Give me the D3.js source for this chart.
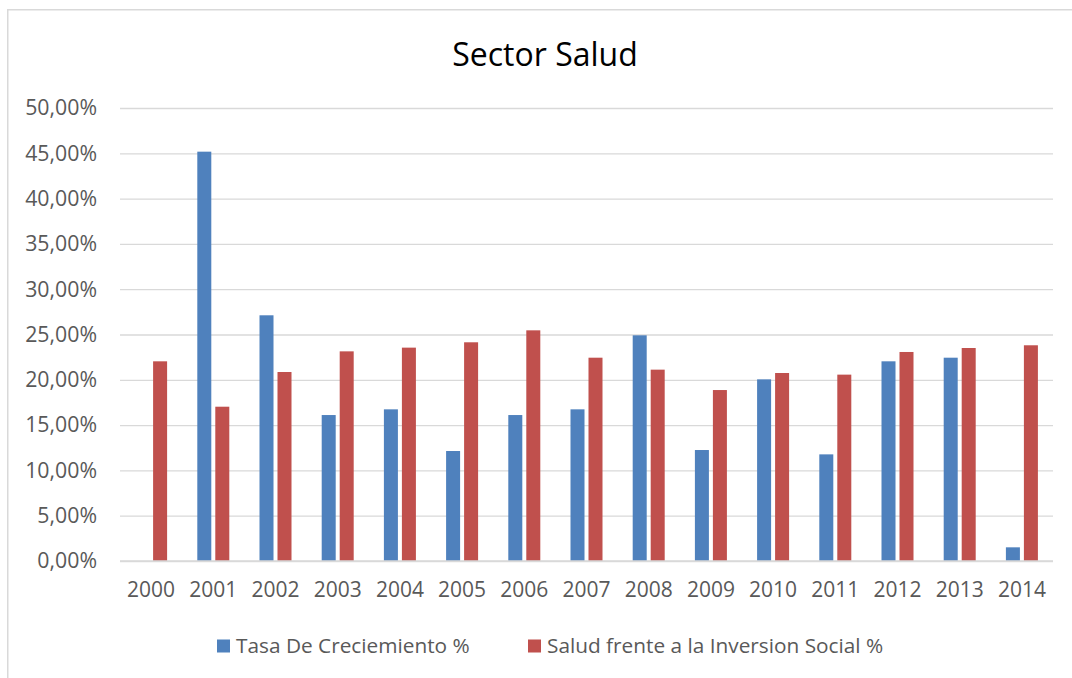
<!DOCTYPE html>
<html>
<head>
<meta charset="utf-8">
<script src="https://cdn.jsdelivr.net/npm/d3@7"></script>
<style>
  html, body { margin: 0; padding: 0; background: #fff; }
  svg { display: block; }
  text { font-family: "Open Sans", "Noto Sans", sans-serif; }
</style>
</head>
<body>
<svg id="chart" width="1072" height="678"></svg>
<script>
// ---- data ----
const years = ["2000","2001","2002","2003","2004","2005","2006","2007","2008","2009","2010","2011","2012","2013","2014"];
const tasaCrecimiento = [null, 0.4518, 0.2712, 0.1611, 0.1674, 0.1214, 0.1611, 0.1674, 0.2491, 0.1225, 0.2005, 0.1177, 0.2204, 0.2244, 0.0151];
const saludInversion = [0.2204, 0.1703, 0.2086, 0.2314, 0.2355, 0.2414, 0.2546, 0.2244, 0.2112, 0.1887, 0.2075, 0.2057, 0.2307, 0.2351, 0.2381];
const seriesNames = ["Tasa De Creciemiento %", "Salud frente a la Inversion Social %"];
const seriesColors = ["#4f81bd", "#c0504d"];
const yTicks = [0, 0.05, 0.10, 0.15, 0.20, 0.25, 0.30, 0.35, 0.40, 0.45, 0.50];
const title = "Sector Salud";

// ---- layout ----
const svg = d3.select("#chart");
const plot = { left: 120, right: 1053, top: 108, bottom: 561 };
const textColor = "#595959";
const gridColor = "#d9d9d9";

const locale = d3.formatLocale({ decimal: ",", thousands: ".", grouping: [3], currency: ["", "€"] });
const fmt = locale.format(".2%");

// chart border (only top/left visible in frame)
svg.append("rect")
  .attr("x", 7.75).attr("y", 9.75)
  .attr("width", 1200).attr("height", 800)
  .attr("fill", "none").attr("stroke", gridColor).attr("stroke-width", 1.5);

// title
svg.append("text")
  .attr("x", 545).attr("y", 66)
  .attr("text-anchor", "middle")
  .attr("font-size", 32)
  .attr("fill", "#000")
  .text(title);

// scales
const pi = 0.4855;
const x0 = d3.scaleBand().domain(years).range([plot.left, plot.right]).paddingInner(pi).paddingOuter(pi / 2);
const x1 = d3.scaleBand().domain(seriesNames).range([0, x0.bandwidth()]).paddingInner(0.222).paddingOuter(0);
const y = d3.scaleLinear().domain([0, 0.5]).range([plot.bottom, plot.top]);

// gridlines + y axis labels
const yAxis = d3.axisLeft(y).tickValues(yTicks).tickFormat(fmt).tickSize(-(plot.right - plot.left)).tickPadding(23);
const gy = svg.append("g").attr("transform", `translate(${plot.left},0)`).call(yAxis);
gy.select(".domain").remove();
gy.selectAll(".tick line").attr("stroke", gridColor).attr("stroke-width", 1.3);
gy.selectAll(".tick text").attr("fill", textColor).attr("font-size", 21.3)
  .attr("font-family", "'Open Sans', sans-serif");

// bars
const rows = years.map((yr, i) => ({ year: yr, values: [tasaCrecimiento[i], saludInversion[i]] }));
const groups = svg.append("g").selectAll("g").data(rows).join("g")
  .attr("transform", d => `translate(${x0(d.year)},0)`);
groups.selectAll("rect")
  .data(d => d.values.map((v, k) => ({ key: seriesNames[k], v, k })).filter(e => e.v !== null))
  .join("rect")
  .attr("x", e => x1(e.key))
  .attr("width", x1.bandwidth())
  .attr("y", e => y(e.v))
  .attr("height", e => y(0) - y(e.v))
  .attr("fill", e => seriesColors[e.k]);

// x axis
const xAxis = d3.axisBottom(x0).tickSize(0).tickPadding(21);
const gx = svg.append("g").attr("transform", `translate(0,${plot.bottom})`).call(xAxis);
gx.select(".domain").attr("stroke", gridColor).attr("stroke-width", 1.3)
  .attr("d", `M${plot.left},0H${plot.right}`);
gx.selectAll(".tick text").attr("fill", textColor).attr("font-size", 21)
  .attr("font-family", "'Open Sans', sans-serif");

// legend
const legendX = [217, 528];
const legend = svg.append("g").selectAll("g").data(seriesNames).join("g")
  .attr("transform", (d, i) => `translate(${legendX[i]},646)`);
legend.append("rect").attr("x", 0).attr("y", -6.5).attr("width", 13).attr("height", 13)
  .attr("fill", (d, i) => seriesColors[i]);
legend.append("text").attr("x", 19).attr("y", 0).attr("dy", "0.35em")
  .attr("font-size", 20.8).attr("fill", textColor).text(d => d);
</script>
</body>
</html>
